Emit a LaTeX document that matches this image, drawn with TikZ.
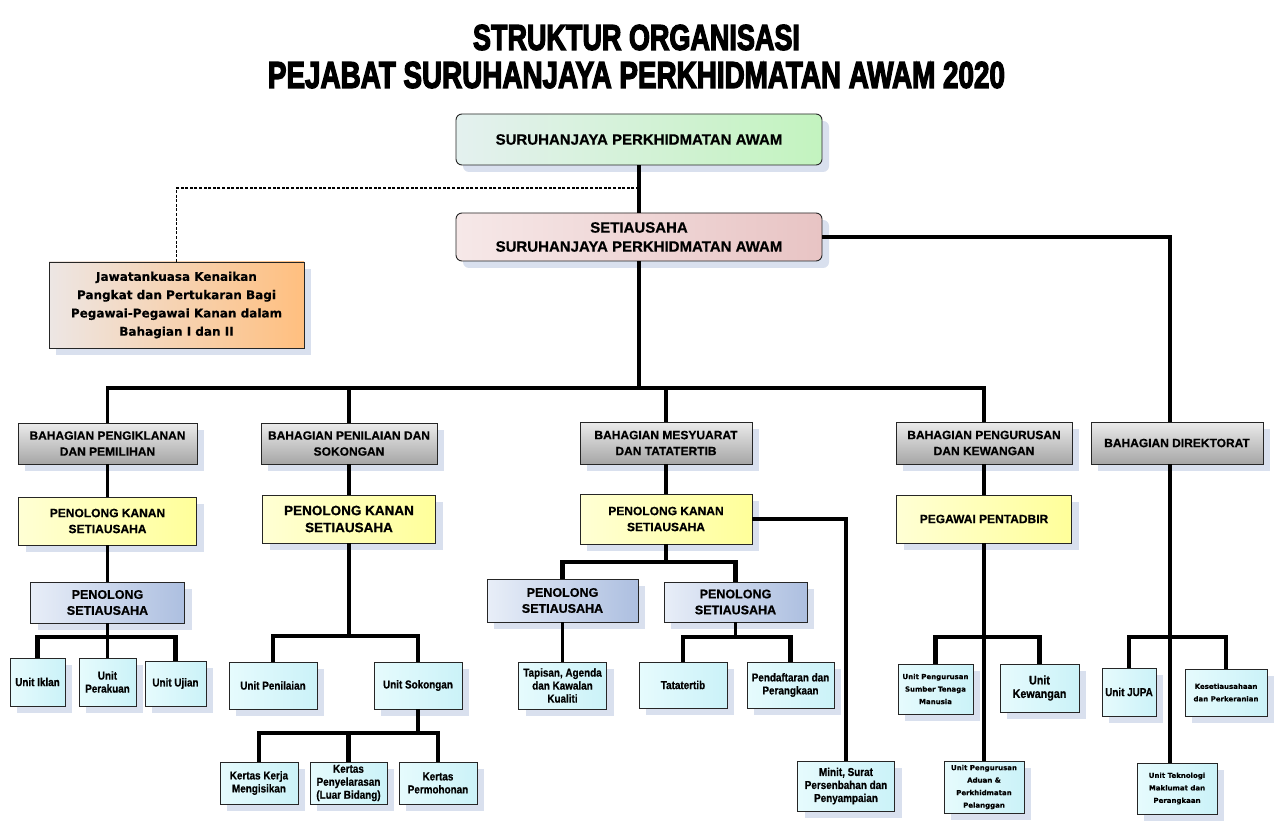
\documentclass[tikz,border=0pt]{standalone}
\usepackage{fontspec}
\usepackage{graphicx}
\setmainfont{Liberation Sans}[BoldFeatures={FakeBold=0.6}]
\newfontfamily\cfont{Liberation Sans}[FakeStretch=0.86, BoldFeatures={FakeBold=0.6}]
\newfontfamily\vfont{DejaVu Sans}[BoldFeatures={FakeBold=0.3}]
\newfontfamily\titlefont{Liberation Sans}[BoldFeatures={FakeBold=4}]
\usetikzlibrary{shadows,calc}
\definecolor{shcol}{HTML}{D9E0EE}
\definecolor{grT}{HTML}{EBEBEB}
\definecolor{grB}{HTML}{A6A6A6}
\definecolor{yeL}{HTML}{FFFFD4}
\definecolor{yeR}{HTML}{FFFF9A}
\definecolor{psL}{HTML}{E8EEF8}
\definecolor{psR}{HTML}{ADBFE0}
\definecolor{unL}{HTML}{E6FBFD}
\definecolor{unR}{HTML}{CBF2F8}
\definecolor{jkL}{HTML}{EDE6E4}
\definecolor{jkR}{HTML}{FFBF7F}
\definecolor{spL}{HTML}{E4F1EF}
\definecolor{spR}{HTML}{C3F3BF}
\definecolor{seL}{HTML}{F6E8E8}
\definecolor{seR}{HTML}{E8C4C4}
\begin{document}
\begin{tikzpicture}[x=1pt,y=-1pt,
  box/.style={draw=black!85, line width=0.9pt, inner sep=0pt, align=center,
    drop shadow={shadow xshift=7pt, shadow yshift=-7pt, fill=shcol, opacity=1}},
  topbox/.style={box, rounded corners=6pt, font=\bfseries\fontsize{15}{19}\selectfont},
  hdr/.style={box, top color=grT, bottom color=grB, font=\bfseries\fontsize{12}{16}\selectfont},
  yel/.style={box, left color=yeL, right color=yeR, font=\bfseries\fontsize{12}{16}\selectfont},
  psb/.style={box, left color=psL, right color=psR, font=\bfseries\fontsize{12.5}{16}\selectfont},
  unit/.style={box, left color=unL, right color=unR, font=\cfont\bfseries\fontsize{11.5}{13}\selectfont},
  small/.style={unit, font=\vfont\bfseries\fontsize{7}{12.5}\selectfont},
  ln/.style={line width=3.6pt},
  bus/.style={line width=4.8pt},
  dsh/.style={line width=1.6pt, dash pattern=on 3pt off 1.6pt}]
\useasboundingbox[fill=white] (0,0) rectangle (1277,834);

% title
\node[inner sep=0pt] (t1) at (636.5,37.5) {\resizebox{327pt}{25pt}{\titlefont\bfseries STRUKTUR ORGANISASI}};
\node[inner sep=0pt] (t2) at (636.5,75) {\resizebox{737pt}{26pt}{\titlefont\bfseries PEJABAT SURUHANJAYA PERKHIDMATAN AWAM 2020}};

% top
\node[topbox, left color=spL, right color=spR, minimum width=366pt, minimum height=51pt] (spa) at (639,139.5) {SURUHANJAYA PERKHIDMATAN AWAM};
\node[topbox, left color=seL, right color=seR, minimum width=366pt, minimum height=48pt] (sek) at (639,237) {SETIAUSAHA\\SURUHANJAYA PERKHIDMATAN AWAM};
\node[box, left color=jkL, right color=jkR, minimum width=255pt, minimum height=86pt, font=\vfont\bfseries\fontsize{12}{18.3}\selectfont] (jk) at (176.5,305) {Jawatankuasa Kenaikan\\Pangkat dan Pertukaran Bagi\\Pegawai-Pegawai Kanan dalam\\Bahagian I dan II};

% bahagian
\node[hdr, minimum width=179pt, minimum height=41pt] (b1) at (107.5,443.5) {BAHAGIAN PENGIKLANAN\\DAN PEMILIHAN};
\node[hdr, minimum width=176pt, minimum height=41pt] (b2) at (349,443.5) {BAHAGIAN PENILAIAN DAN\\SOKONGAN};
\node[hdr, minimum width=172pt, minimum height=42pt] (b3) at (666,443) {BAHAGIAN MESYUARAT\\DAN TATATERTIB};
\node[hdr, minimum width=176pt, minimum height=42pt] (b4) at (984,443) {BAHAGIAN PENGURUSAN\\DAN KEWANGAN};
\node[hdr, minimum width=172pt, minimum height=42pt] (dir) at (1177,443) {BAHAGIAN DIREKTORAT};

% penolong kanan
\node[yel, minimum width=178pt, minimum height=48pt] (pk1) at (107.5,521) {PENOLONG KANAN\\SETIAUSAHA};
\node[yel, minimum width=173pt, minimum height=48pt, font=\bfseries\fontsize{13.5}{17}\selectfont] (pk2) at (349,519) {PENOLONG KANAN\\SETIAUSAHA};
\node[yel, minimum width=172pt, minimum height=50pt] (pk3) at (666,519) {PENOLONG KANAN\\SETIAUSAHA};
\node[yel, minimum width=175pt, minimum height=48pt] (pp) at (984,519) {PEGAWAI PENTADBIR};

% penolong setiausaha
\node[psb, minimum width=154pt, minimum height=41pt] (ps1) at (107.5,602.5) {PENOLONG\\SETIAUSAHA};
\node[psb, minimum width=151pt, minimum height=43pt] (ps2) at (562.5,600.5) {PENOLONG\\SETIAUSAHA};
\node[psb, minimum width=143pt, minimum height=40pt] (ps3) at (735.5,602) {PENOLONG\\SETIAUSAHA};

% units
\node[unit, minimum width=55pt, minimum height=48pt] (u1) at (37.5,682) {Unit Iklan};
\node[unit, minimum width=57pt, minimum height=48pt] (u2) at (107.5,682) {Unit\\Perakuan};
\node[unit, minimum width=61pt, minimum height=45pt] (u3) at (175.5,683.5) {Unit Ujian};
\node[unit, minimum width=88pt, minimum height=47pt] (u4) at (273,685.5) {Unit Penilaian};
\node[unit, minimum width=88pt, minimum height=47pt] (u5) at (418,685.5) {Unit Sokongan};
\node[unit, minimum width=78pt, minimum height=42pt] (k1) at (259,783) {Kertas Kerja\\Mengisikan};
\node[unit, minimum width=77pt, minimum height=42pt] (k2) at (348.5,783) {Kertas\\Penyelarasan\\(Luar Bidang)};
\node[unit, minimum width=78pt, minimum height=42pt] (k3) at (438,783) {Kertas\\Permohonan};
\node[unit, minimum width=88pt, minimum height=47pt] (tap) at (562.5,685.5) {Tapisan, Agenda\\dan Kawalan\\Kualiti};
\node[unit, minimum width=88pt, minimum height=46pt] (tat) at (683,685) {Tatatertib};
\node[unit, minimum width=87pt, minimum height=46pt] (pen) at (790.5,685) {Pendaftaran dan\\Perangkaan};
\node[unit, minimum width=97pt, minimum height=50pt] (minit) at (846,786) {Minit, Surat\\Persenbahan dan\\Penyampaian};
\node[small, minimum width=75pt, minimum height=50pt] (sdm) at (935.5,689) {Unit Pengurusan\\Sumber Tenaga\\Manusia};
\node[unit, minimum width=79pt, minimum height=48pt, font=\cfont\bfseries\fontsize{12.5}{13.5}\selectfont] (kew) at (1039.5,688) {Unit\\Kewangan};
\node[small, minimum width=80pt, minimum height=52pt] (aduan) at (984,787) {Unit Pengurusan\\Aduan \&\\Perkhidmatan\\Pelanggan};
\node[unit, minimum width=54pt, minimum height=48pt, font=\cfont\bfseries\fontsize{11.5}{13}\selectfont] (jupa) at (1129,692) {Unit JUPA};
\node[small, minimum width=82pt, minimum height=47pt] (kes) at (1226,692.5) {Kesetiausahaan\\dan Perkeranian};
\node[small, minimum width=80pt, minimum height=51pt] (tek) at (1177,788.5) {Unit Teknologi\\Maklumat dan\\Perangkaan};

% junctions
\coordinate (dj) at (639,188);
\coordinate (mb) at (639,388);
\coordinate (j1) at (107.5,637);
\coordinate (j2) at (349,636);
\coordinate (j3) at (348.5,733);
\coordinate (j4) at (666,562);
\coordinate (j5) at (735.5,637);
\coordinate (j6) at (984,637);
\coordinate (j7) at (1170,637);

% connectors
\draw[line width=3.2pt] (spa) -- (sek);
\draw[dsh] (dj) -| (jk.north);
\draw[ln] (sek.south) -- (mb);
\draw[ln] (b1.north) |- (mb) -| (b4.north);
\draw[ln] (b2.north) -- (b2.north |- mb);
\draw[ln] (b3.north) -- (b3.north |- mb);
\draw[ln] (sek.east) -| (dir.north -| j7);

\draw[ln] (b1) -- (pk1);
\draw[ln] (pk1) -- (ps1);
\draw[ln] (ps1.south) -- (u2.north);
\draw[bus] (u1.north) |- (j1) -| (u3.north);

\draw[ln] (b2) -- (pk2);
\draw[ln] (pk2.south) -- (j2);
\draw[bus] (u4.north) |- (j2) -| (u5.north);
\draw[ln] (u5.south) -- (u5.south |- j3);
\draw[bus] (k1.north) |- (j3) -| (k3.north);
\draw[bus] (j3) -- (k2.north);

\draw[ln] (b3) -- (pk3);
\draw[ln] (pk3.south) -- (j4);
\draw[bus] (ps2.north) |- (j4) -| (ps3.north);
\draw[ln] (pk3.east) -| (minit.north);
\draw[ln] (ps2.south) -- (tap.north);
\draw[ln] (ps3.south) -- (j5);
\draw[bus] (tat.north) |- (j5) -| (pen.north);

\draw[ln] (b4) -- (pp);
\draw[ln] (pp.south) -- (aduan.north);
\draw[bus] (sdm.north) |- (j6) -| (kew.north);

\draw[ln] (dir.south -| j7) -- (tek.north -| j7);
\draw[bus] (jupa.north) |- (j7) -| (kes.north);
\end{tikzpicture}
\end{document}
